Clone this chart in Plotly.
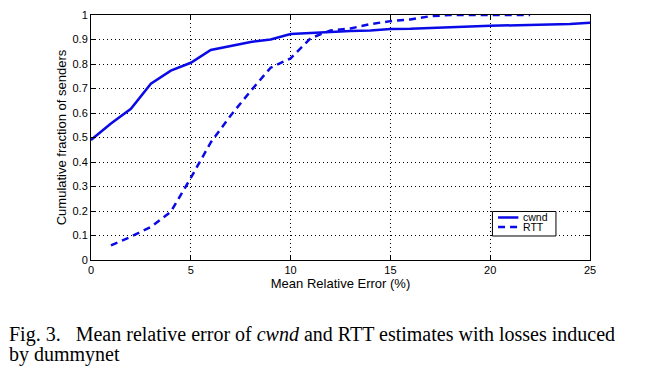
import plotly.graph_objects as go

cwnd_x = [0, 1, 2, 3, 4, 5, 6, 7, 8, 9, 10, 11, 12, 13, 14, 15, 16, 17, 18, 19, 20, 21, 22, 23, 24, 25]
cwnd_y = [0.49, 0.557, 0.617, 0.72, 0.773, 0.805, 0.857, 0.873, 0.89, 0.9, 0.922, 0.927, 0.932, 0.935, 0.937, 0.943, 0.944, 0.948, 0.952, 0.953, 0.956, 0.957, 0.958, 0.962, 0.963, 0.968]

rtt_x = [1, 2, 3, 4, 5, 6, 7, 8, 9, 10, 11, 12, 13, 14, 15, 16, 17, 18, 19, 20, 21, 22]
rtt_y = [0.06, 0.095, 0.135, 0.197, 0.335, 0.48, 0.59, 0.69, 0.785, 0.823, 0.905, 0.937, 0.945, 0.963, 0.975, 0.982, 0.995, 1.0, 1.0, 1.0, 1.0, 1.0]

x_ticks = [0, 5, 10, 15, 20, 25]
y_ticks = [0, 0.1, 0.2, 0.3, 0.4, 0.5, 0.6, 0.7, 0.8, 0.9, 1]
y_tick_labels = ["0", "0.1", "0.2", "0.3", "0.4", "0.5", "0.6", "0.7", "0.8", "0.9", "1"]

series_names = ["cwnd", "RTT"]
caption_line1 = "Fig. 3.&nbsp;&nbsp;&nbsp;Mean relative error of <i>cwnd</i> and RTT estimates with losses induced"
caption_line2 = "by dummynet"

blue = "#0a0ae6"
sans = "Liberation Sans, Arial"
serif = "Liberation Serif, Times New Roman"

fig = go.Figure()
fig.add_trace(go.Scatter(x=cwnd_x, y=cwnd_y, mode="lines", name=series_names[0],
                         line=dict(color=blue, width=2.5), showlegend=False))
fig.add_trace(go.Scatter(x=rtt_x, y=rtt_y, mode="lines", name=series_names[1],
                         line=dict(color=blue, width=2.5, dash="7px,5px"), showlegend=False))

axis_common = dict(showline=True, linecolor="black", linewidth=1, mirror="ticks",
                   ticks="inside", ticklen=5, tickcolor="black",
                   showgrid=True, gridcolor="black", gridwidth=1, griddash="1px,3px",
                   zeroline=False, automargin=False,
                   tickfont=dict(family=sans, size=11, color="black"))

fig.update_xaxes(range=[0, 25], tickvals=x_ticks, ticktext=[str(v) for v in x_ticks],
                 title=dict(text="Mean Relative Error (%)", standoff=0,
                            font=dict(family=sans, size=13, color="black")),
                 **axis_common)
fig.update_yaxes(range=[0, 1], tickvals=y_ticks, ticktext=y_tick_labels,
                 title=dict(text="Cumulative fraction of senders", standoff=2,
                            font=dict(family=sans, size=13, color="black")),
                 **axis_common)

# the page body adds an 8px margin, so the figure is sized/offset to compensate
fig.update_layout(
    width=638, height=361,
    margin=dict(l=83, r=56, t=7, b=109),
    paper_bgcolor="white", plot_bgcolor="white",
    showlegend=False,
)

# compact legend box (MATLAB style)
fig.add_shape(type="rect", xref="paper", yref="paper", x0=0.8045, x1=0.9318, y0=0.098, y1=0.198,
              line=dict(color="black", width=1), fillcolor="white", layer="above")
fig.add_shape(type="line", xref="paper", yref="paper", x0=0.8157, x1=0.8564, y0=0.1735, y1=0.1735,
              line=dict(color=blue, width=2.5), layer="above")
fig.add_shape(type="line", xref="paper", yref="paper", x0=0.8157, x1=0.8564, y0=0.1347, y1=0.1347,
              line=dict(color=blue, width=2.5, dash="7px,5px"), layer="above")
for name, yy in zip(series_names, [0.1735, 0.1347]):
    fig.add_annotation(text=name, xref="paper", yref="paper", x=0.8635, y=yy,
                       xanchor="left", yanchor="middle", showarrow=False, borderpad=0,
                       font=dict(family=sans, size=10.5, color="black"))

fig.add_annotation(text=caption_line1, xref="paper", yref="paper", x=-0.166, y=-0.304,
                   xanchor="left", yanchor="middle", showarrow=False, borderpad=0,
                   font=dict(family=serif, size=20, color="black"))
fig.add_annotation(text=caption_line2, xref="paper", yref="paper", x=-0.166, y=-0.386,
                   xanchor="left", yanchor="middle", showarrow=False, borderpad=0,
                   font=dict(family=serif, size=20, color="black"))

fig.write_html("out.html")
